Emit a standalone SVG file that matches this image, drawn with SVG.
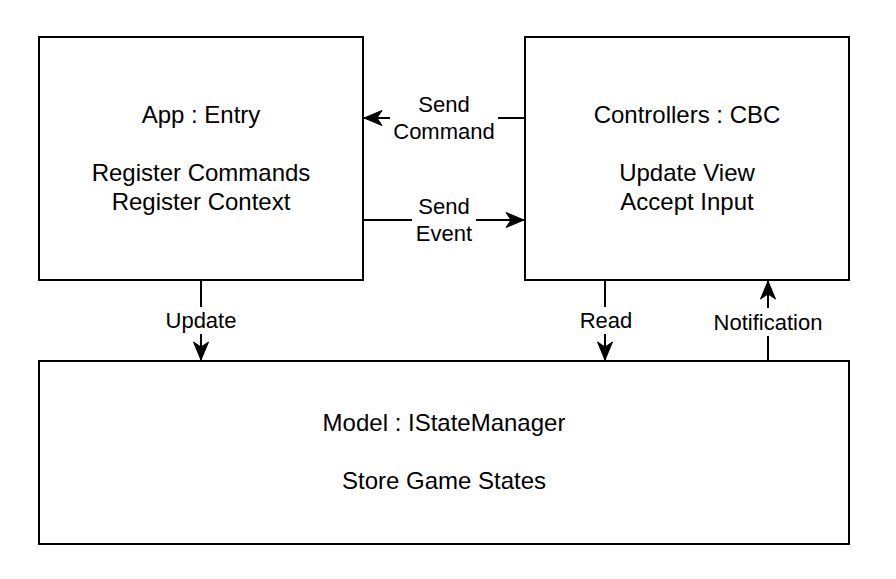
<svg xmlns="http://www.w3.org/2000/svg" width="896" height="579" viewBox="0 0 896 579">
<defs>
<style>
.box{fill:#fff;stroke:#000;stroke-width:2}
.line{fill:none;stroke:#000;stroke-width:2}
.t{font-family:"Liberation Sans",Arial,sans-serif;font-size:24px;fill:#000;text-anchor:middle}
.l{font-family:"Liberation Sans",Arial,sans-serif;font-size:22px;fill:#000;text-anchor:middle}
.bg{fill:#fff}
</style>
<marker id="arr" markerUnits="userSpaceOnUse" markerWidth="20" markerHeight="18" viewBox="-19 -9 20 18" refX="0" refY="0" orient="auto">
<path d="M0,0 L-18,-7.5 L-13,0 L-18,7.5 Z" fill="#000" stroke="#000" stroke-width="1"/>
</marker>
</defs>
<rect width="896" height="579" fill="#fff"/>
<g id="app">
<rect class="box" x="39" y="37" width="324" height="243"/>
<text class="t" x="201" y="123">App : Entry</text>
<text class="t" x="201" y="181">Register Commands</text>
<text class="t" x="201" y="210">Register Context</text>
</g>
<g id="controllers">
<rect class="box" x="525" y="37" width="324" height="243"/>
<text class="t" x="687" y="123">Controllers : CBC</text>
<text class="t" x="687" y="181">Update View</text>
<text class="t" x="687" y="210">Accept Input</text>
</g>
<g id="model">
<rect class="box" x="39" y="361" width="810" height="183"/>
<text class="t" x="444" y="431">Model : IStateManager</text>
<text class="t" x="444" y="489">Store Game States</text>
</g>
<g id="connectors">
<path class="line" d="M525,118 L364,118" marker-end="url(#arr)"/>
<path class="line" d="M363,220 L524,220" marker-end="url(#arr)"/>
<path class="line" d="M201,280 L201,360" marker-end="url(#arr)"/>
<path class="line" d="M605,280 L605,360" marker-end="url(#arr)"/>
<path class="line" d="M768,361 L768,281" marker-end="url(#arr)"/>
<rect class="bg" x="390" y="92" width="108" height="52"/>
<text class="l" x="444" y="112">Send</text>
<text class="l" x="444" y="139">Command</text>
<rect class="bg" x="412" y="194" width="64" height="52"/>
<text class="l" x="444" y="214">Send</text>
<text class="l" x="444" y="241">Event</text>
<rect class="bg" x="160" y="307" width="82" height="27"/>
<text class="l" x="201" y="328">Update</text>
<rect class="bg" x="576" y="307" width="60" height="27"/>
<text class="l" x="606" y="328">Read</text>
<rect class="bg" x="708" y="308" width="120" height="28"/>
<text class="l" x="768" y="330">Notification</text>
</g>
</svg>
